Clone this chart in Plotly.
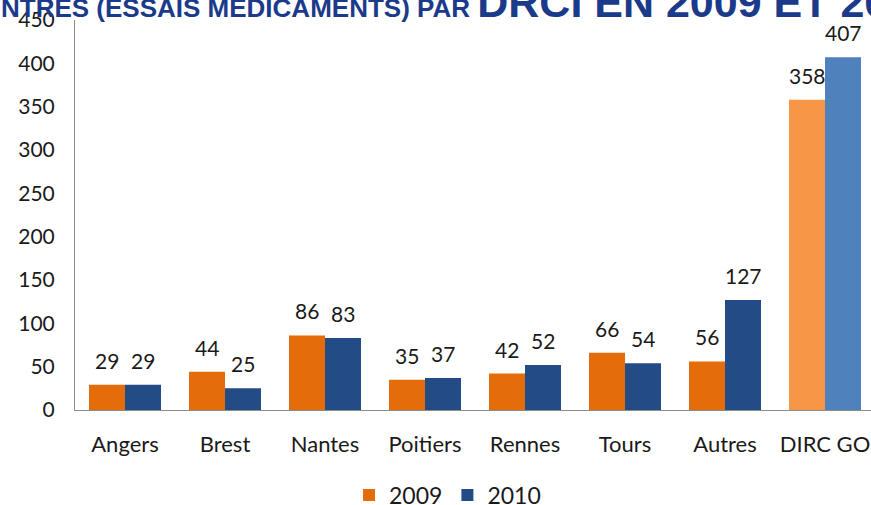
import plotly.graph_objects as go

categories = ["Angers", "Brest", "Nantes", "Poitiers", "Rennes", "Tours", "Autres", "DIRC GO"]
values_2009 = [29, 44, 86, 35, 42, 66, 56, 358]
values_2010 = [29, 25, 83, 37, 52, 54, 127, 407]
y_ticks = [0, 50, 100, 150, 200, 250, 300, 350, 400, 450]

orange = "#E46C0A"
blue = "#234B85"
orange_light = "#F79646"
blue_light = "#4F81BD"
colors_2009 = [orange] * 7 + [orange_light]
colors_2010 = [blue] * 7 + [blue_light]

FONT = "Lato, 'Open Sans', sans-serif"
TXT = "#1a1a1a"

fig = go.Figure()
fig.add_trace(go.Bar(x=categories, y=values_2009, name="2009",
                     marker=dict(color=colors_2009, line=dict(width=0))))
fig.add_trace(go.Bar(x=categories, y=values_2010, name="2010",
                     marker=dict(color=colors_2010, line=dict(width=0))))

annotations = []
for c, v in zip(categories, values_2009):
    annotations.append(dict(x=c, y=v, xref="x", yref="y", text=str(v), showarrow=False,
                            xshift=-18, yshift=10, yanchor="bottom",
                            font=dict(family=FONT, size=21, color=TXT)))
for c, v in zip(categories, values_2010):
    annotations.append(dict(x=c, y=v, xref="x", yref="y", text=str(v), showarrow=False,
                            xshift=18, yshift=10, yanchor="bottom",
                            font=dict(family=FONT, size=21, color=TXT)))

title_text = ("NTRES (ESSAIS MÉDICAMENTS) PAR "
              "<span style='font-size:43px'>DRCI EN 2009 ET 2010</span>")
annotations.append(dict(x=-76/797, y=0.98, xref="paper", yref="paper", text=title_text,
                        showarrow=False, xanchor="left", yanchor="bottom",
                        font=dict(family="'Liberation Sans', Arial, sans-serif", size=26,
                                  color="#1B3A8A", weight="bold")))

fig.update_layout(
    width=871, height=505,
    margin=dict(l=75, r=0, t=20, b=95, autoexpand=False),
    paper_bgcolor="white", plot_bgcolor="white",
    barmode="group", bargap=0.28, bargroupgap=0,
    font=dict(family=FONT, size=21, color=TXT),
    showlegend=True,
    legend=dict(orientation="h", x=0.468, xanchor="center", y=-0.218, yanchor="middle",
                font=dict(family=FONT, size=23, color=TXT), itemwidth=30,
                traceorder="normal"),
    annotations=annotations,
)
fig.update_xaxes(range=[-0.5, 7.46], showline=True, linecolor="#8c8c8c", linewidth=1,
                 showgrid=False, ticks="", ticklabelstandoff=15, automargin=False,
                 tickfont=dict(family=FONT, size=22, color=TXT))
fig.update_yaxes(range=[0, 450], tickvals=y_ticks, showline=True, linecolor="#8c8c8c",
                 linewidth=1, showgrid=False, zeroline=False, ticks="",
                 ticklabelstandoff=15, automargin=False,
                 tickfont=dict(family=FONT, size=21, color=TXT))

fig.write_html("out.html", config={"displayModeBar": False},
               post_script="document.body.style.margin='0';")
